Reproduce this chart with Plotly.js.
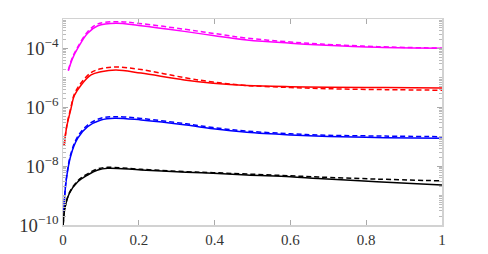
<!DOCTYPE html>
<html>
<head>
<meta charset="utf-8">
<script src="https://cdn.plot.ly/plotly-3.0.1.min.js"></script>
<style>html,body{margin:0;padding:0;background:#fff;}#chart{width:488px;height:254px;}</style>
</head>
<body>
<div id="chart"></div>
<script>
// Magenta pair
const xMagenta = [0.014, 0.025, 0.039, 0.065, 0.092, 0.14, 0.2, 0.32, 0.4, 0.485, 0.6, 0.68, 0.83, 1.0];
const magentaSolid = [1.74e-5, 4.5e-5, 1.02e-4, 3.3e-4, 5.9e-4, 7.2e-4, 6.0e-4, 3.8e-4, 2.7e-4, 1.95e-4, 1.51e-4, 1.32e-4, 1.10e-4, 1.02e-4];
const magentaDashed = [1.82e-5, 5.0e-5, 1.12e-4, 3.7e-4, 6.8e-4, 8.1e-4, 7.1e-4, 4.5e-4, 3.2e-4, 2.24e-4, 1.66e-4, 1.41e-4, 1.15e-4, 1.02e-4];
// Red pair
const xRed = [0.003, 0.01, 0.02, 0.03, 0.048, 0.074, 0.1, 0.14, 0.206, 0.32, 0.396, 0.485, 0.6, 0.7, 0.85, 1.0];
const redSolid = [5.0e-8, 2.24e-7, 7.9e-7, 2.5e-6, 5.75e-6, 1.26e-5, 1.62e-5, 1.86e-5, 1.45e-5, 8.5e-6, 6.6e-6, 5.5e-6, 5.0e-6, 4.8e-6, 4.7e-6, 4.5e-6];
const redDashed = [5.0e-8, 2.4e-7, 8.9e-7, 2.8e-6, 6.8e-6, 1.51e-5, 2.04e-5, 2.34e-5, 1.91e-5, 1.02e-5, 7.2e-6, 5.5e-6, 4.7e-6, 4.27e-6, 3.98e-6, 3.8e-6];
// Blue pair
const xBlue = [0.002, 0.008, 0.021, 0.039, 0.065, 0.1, 0.136, 0.206, 0.325, 0.396, 0.485, 0.6, 0.7, 0.85, 1.0];
const blueSolid = [2.8e-10, 2.95e-9, 2.4e-8, 8.9e-8, 2.19e-7, 3.7e-7, 4.27e-7, 3.7e-7, 2.5e-7, 1.86e-7, 1.41e-7, 1.15e-7, 1.02e-7, 9.3e-8, 8.9e-8];
const blueDashed = [2.8e-10, 3.16e-9, 2.7e-8, 1.02e-7, 2.5e-7, 4.27e-7, 4.8e-7, 4.17e-7, 2.75e-7, 2.04e-7, 1.55e-7, 1.26e-7, 1.12e-7, 1.05e-7, 1.0e-7];
// Black pair
const xBlack = [0.0005, 0.005, 0.017, 0.039, 0.065, 0.092, 0.118, 0.206, 0.325, 0.396, 0.485, 0.6, 0.673, 0.828, 1.0];
const blackSolid = [1.0e-10, 3.7e-10, 1.2e-9, 2.95e-9, 5.0e-9, 7.4e-9, 8.5e-9, 7.4e-9, 6.2e-9, 5.75e-9, 5.0e-9, 4.37e-9, 3.8e-9, 2.95e-9, 2.29e-9];
const blackDashed = [1.0e-10, 3.8e-10, 1.26e-9, 3.16e-9, 5.5e-9, 8.1e-9, 9.1e-9, 7.8e-9, 6.5e-9, 6.0e-9, 5.4e-9, 4.7e-9, 4.27e-9, 3.63e-9, 3.16e-9];

function tr(x, y, color, dashed) {
  return {
    x: x, y: y, type: 'scatter', mode: 'lines',
    line: {color: color, width: 1.5, dash: dashed ? '5px,3px' : 'solid', shape: 'spline', smoothing: 1},
    hoverinfo: 'skip', showlegend: false
  };
}

const data = [
  tr(xMagenta, magentaDashed, '#ff00ff', true),
  tr(xMagenta, magentaSolid, '#ff00ff', false),
  tr(xRed, redDashed, '#ff0000', true),
  tr(xRed, redSolid, '#ff0000', false),
  tr(xBlue, blueDashed, '#0000ff', true),
  tr(xBlue, blueSolid, '#0000ff', false),
  tr(xBlack, blackDashed, '#000000', true),
  tr(xBlack, blackSolid, '#000000', false)
];

const fontSerif = {family: 'Liberation Serif', size: 15, color: '#333'};

const layout = {
  width: 488, height: 254,
  margin: {l: 63, r: 46, t: 19, b: 29},
  paper_bgcolor: '#fff', plot_bgcolor: '#fff',
  font: fontSerif,
  xaxis: {
    range: [0, 1], tick0: 0, dtick: 0.2,
    showgrid: false, zeroline: false,
    showline: true, linecolor: '#d2d2d2', linewidth: 1.5, mirror: 'allticks',
    ticks: 'inside', ticklen: 5, tickcolor: '#aaa', tickwidth: 1,
    tickfont: fontSerif
  },
  yaxis: {
    type: 'log', range: [-10, -3], tick0: -10, dtick: 2,
    exponentformat: 'power', showexponent: 'all',
    showgrid: false, zeroline: false,
    showline: true, linecolor: '#d2d2d2', linewidth: 1.5, mirror: 'allticks',
    ticks: 'inside', ticklen: 5, tickcolor: '#aaa', tickwidth: 1,
    minor: {ticks: 'inside', ticklen: 3, tickcolor: '#bbb', dtick: 'D1', showgrid: false},
    tickfont: fontSerif
  }
};

Plotly.newPlot('chart', data, layout, {displayModeBar: false, staticPlot: true});
</script>
</body>
</html>
